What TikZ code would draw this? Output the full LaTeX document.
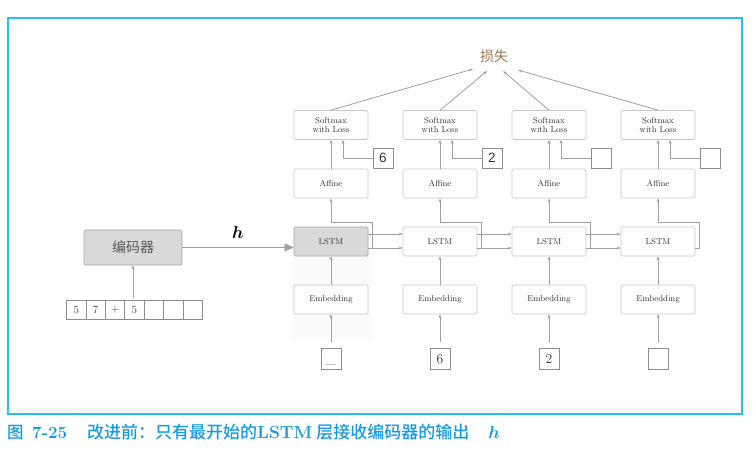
\documentclass[tikz,border=0pt]{standalone}
\usepackage{fontspec}
\usepackage{amsmath,bm}
\newfontfamily\cjk{Noto Sans CJK SC}
\newfontfamily\cjkm{Noto Sans CJK SC Medium}
\newfontfamily\lsans{Liberation Sans}
\usetikzlibrary{arrows.meta}
\definecolor{framecol}{RGB}{40,190,240}
\definecolor{capcol}{RGB}{20,155,225}
\definecolor{linecol}{RGB}{160,160,160}
\definecolor{boxcol}{RGB}{200,200,200}
\definecolor{losscol}{RGB}{160,120,88}
\definecolor{txtcol}{RGB}{50,50,50}
\tikzset{
  layer/.style={draw=boxcol, fill=white, line width=0.7pt, rounded corners=1.5pt, minimum width=74pt, minimum height=29pt, inner sep=0pt, text=txtcol, font=\fontsize{8.5}{9.5}\selectfont, align=center},
  graylayer/.style={layer, fill=black!15, draw=black!35},
  lbl/.style={draw=black!45, line width=0.6pt, minimum width=20pt, minimum height=20pt, inner sep=0pt, text=txtcol, font=\lsans\fontsize{13.5}{13.5}\selectfont},
  tok/.style={draw=black!45, line width=0.6pt, minimum width=20pt, minimum height=21pt, inner sep=0pt, text height=9.5pt, text depth=0pt, text=txtcol, font=\fontsize{13.5}{13.5}\selectfont},
  cell/.style={draw=black!45, line width=0.6pt, minimum width=19.4pt, minimum height=19pt, inner sep=0pt, text=txtcol, font=\fontsize{11}{11}\selectfont},
  conn/.style={draw=linecol, line width=0.8pt, -{Stealth[length=4pt,width=3pt]}},
  plain/.style={draw=linecol, line width=0.8pt},
  captxt/.style={anchor=base west, text=capcol, inner sep=0pt},
}
\begin{document}
\begin{tikzpicture}[x=1pt,y=-1pt]
\useasboundingbox (0,0) rectangle (756,456);
\fill[white] (0,0) rectangle (756,456);
\draw[framecol, line width=1.4pt] (8,18) rectangle (742,414);
% faint background behind first column
\fill[black!2] (293,227) rectangle (371,338);
% loss
\node[text=losscol, font=\cjk\fontsize{14}{14}\selectfont] (loss) at (494,56) {损失};
% columns
\foreach \i/\x/\t/\b in {1/331/6/\_,2/440/2/6,3/549/{}/2,4/658/{}/{}}{
  \node[layer] (sm\i) at (\x,125) {Softmax\\with Loss};
  \node[layer] (af\i) at (\x,183.5) {Affine};
  \node[layer] (em\i) at (\x,299.5) {Embedding};
  \node[lbl] (lb\i) at ({\x+52},158) {\t};
  \node[tok] (tk\i) at (\x,358.5) {\b};
  \coordinate (tkin\i) at (\x,342);
}
\node[graylayer] (ls1) at (331,241.5) {LSTM};
\node[layer] (ls2) at (440,241.5) {LSTM};
\node[layer] (ls3) at (549,241.5) {LSTM};
\node[layer] (ls4) at (658,241.5) {LSTM};
% vertical connections
\foreach \i in {1,2,3,4}{
  \draw[conn] (af\i.north) -- (sm\i.south);
  \draw[conn] (em\i.north) -- (ls\i.south);
  \draw[conn] (tkin\i) -- (em\i.south);
  \draw[conn] (lb\i.west) -| ([xshift=12pt]sm\i.south);
}
% to loss
\draw[conn] (sm1.north) -- (473,69);
\draw[conn] (sm2.north) -- (487,71);
\draw[conn] (sm3.north) -- (503,71);
\draw[conn] (sm4.north) -- (518,70);
% recurrent connections
\foreach \i/\j in {1/2,2/3,3/4}{
  \draw[conn] ([yshift=7.5pt]ls\i.east) -- ([yshift=7.5pt]ls\j.west);
  \draw[conn] ([yshift=-6.5pt]ls\i.east) -- ([yshift=-6.5pt]ls\j.west);
  \draw[conn] ([xshift=4pt,yshift=-6.5pt]ls\i.east) -- ([xshift=4pt,yshift=19.5pt]ls\i.east) -| (af\i.south);
}
\draw[conn] ([yshift=-6.5pt]ls4.east) -- ([xshift=4pt,yshift=-6.5pt]ls4.east) -- ([xshift=4pt,yshift=19.5pt]ls4.east) -| (af4.south);
% encoder
\node[graylayer, minimum width=98pt, minimum height=35pt, font=\cjk\fontsize{14}{14}\selectfont, text=black!65] (enc) at (133,247.5) {编码器};
\coordinate (lsin) at (ls1.west |- enc.east);
\draw[draw=linecol, line width=1.2pt, -{Triangle[length=9pt,width=8pt]}] (enc.east) -- (lsin);
\node[font=\fontsize{17}{17}\selectfont] (hlbl) at (238,232) {$\bm{h}$};
% input sequence
\foreach \k/\c in {0/5,1/7,2/+,3/5,4/{},5/{},6/{}}{
  \node[cell] (c\k) at ({76.2+19.4*\k},309.5) {\c};
}
\coordinate (encin) at (133,298);
\draw[conn] (encin) -- (enc.south);
% caption
\node[captxt, font=\cjkm\fontsize{16.5}{16.5}\selectfont] (cap1) at (7,438) {图};
\node[captxt, font=\rmfamily\bfseries\fontsize{17}{17}\selectfont] (cap2) at (32,438) {7-25};
\node[captxt, font=\cjkm\fontsize{17}{17}\selectfont] (cap3) at (87,438) {改进前：只有最开始的{\rmfamily\bfseries\fontsize{17.5}{17.5}\selectfont LSTM}\hspace{4pt}层接收编码器的输出\hspace{19pt}{\fontsize{17}{17}\selectfont$\bm{h}$}};
\end{tikzpicture}
\end{document}
